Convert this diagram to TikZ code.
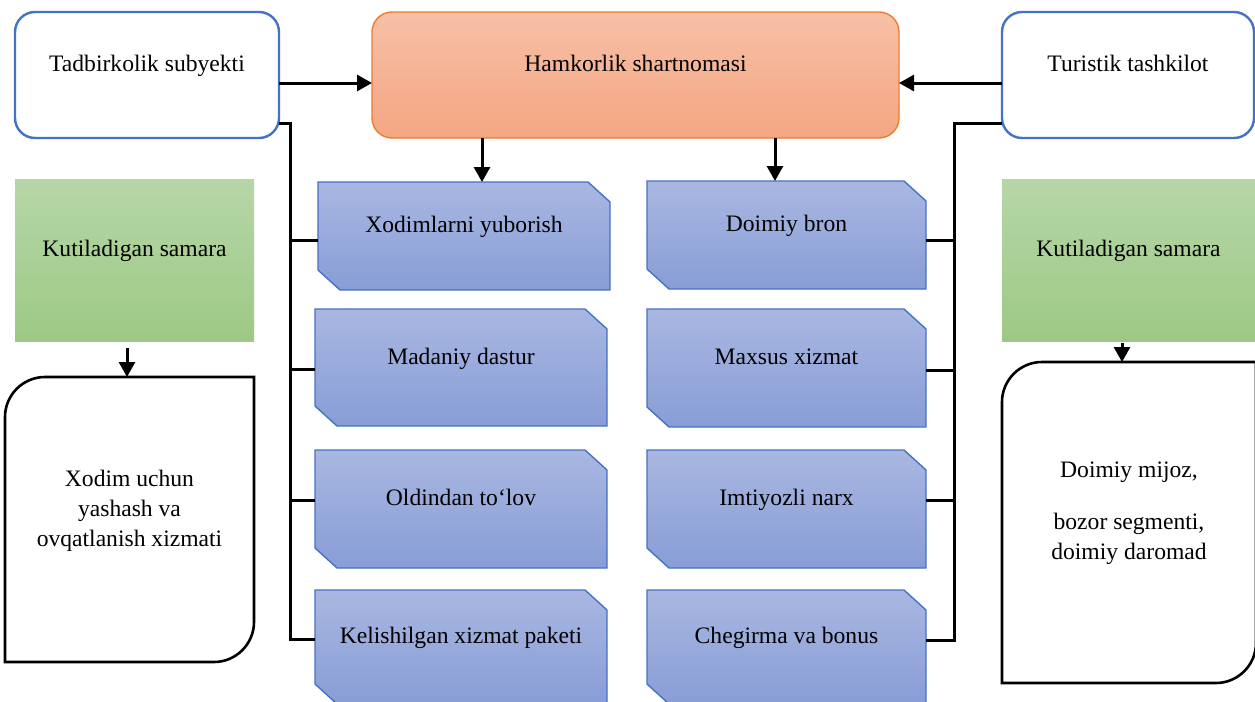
\documentclass[tikz,border=0pt]{standalone}
\usepackage{fontspec}
\setmainfont{Liberation Serif}
\usetikzlibrary{arrows.meta,backgrounds}

\definecolor{frameblue}{RGB}{68,114,196}
\definecolor{svctop}{RGB}{169,183,225}
\definecolor{svcbot}{RGB}{136,157,215}
\definecolor{ctrtop}{RGB}{247,192,167}
\definecolor{ctrbot}{RGB}{244,166,130}
\definecolor{ctrline}{RGB}{237,125,49}
\definecolor{restop}{RGB}{182,214,168}
\definecolor{resbot}{RGB}{157,201,132}

\begin{document}
\begin{tikzpicture}[x=0.5pt, y=-0.5pt,
    font=\fontsize{11.8}{15}\selectfont,
    every node/.style={outer sep=0pt, inner sep=0pt},
    partner/.style ={rectangle, rounded corners=10pt, draw=frameblue, line width=1.2pt,
      fill=white, minimum height=63pt, text height=8pt, text depth=11.5pt},
    contract/.style ={rectangle, rounded corners=10pt, draw=ctrline, line width=0.7pt,
      top color=ctrtop, bottom color=ctrbot, minimum width=263.5pt, minimum height=63pt,
      text height=8pt, text depth=11.5pt},
    result/.style ={rectangle, top color=restop, bottom color=resbot, minimum height=81pt,
      text height=8pt, text depth=11.5pt},
    service/.style ={rectangle, minimum width=146pt, text height=8pt, text depth=11.5pt},
    outcome/.style ={rectangle, align=center, text depth=11.6pt},
    snip/.style ={draw=frameblue, line width=0.7pt, top color=svctop, bottom color=svcbot},
    outline/.style ={draw=black, line width=1.3pt, fill=white},
    link/.style ={draw=black, line width=1.5pt},
    flow/.style ={link, -{Triangle[length=7.5pt, width=8pt]}}]
   \useasboundingbox (0,0) rectangle (1255,702);
   \node[partner, minimum width=132pt] (tadbir) at (147,75) {Tadbirkolik subyekti};
   \node[contract] (hamkor) at (635.5,75) {Hamkorlik shartnomasi};
   \node[partner, minimum width=126pt] (turist) at (1128,75) {Turistik tashkilot};
   \node[result, minimum width=119.5pt] (samaraL) at (134.5,260) {Kutiladigan samara};
   \node[result, minimum width=126.5pt] (samaraR) at (1128.5,260) {Kutiladigan samara};
   \node[service, minimum height=54pt] (xodim) at (464,236) {Xodimlarni yuborish};
   \node[service, minimum height=58.5pt] (madaniy) at (461,367.5) {Madaniy dastur};
   \node[service, minimum height=59pt] (oldindan) at (461,509) {Oldindan to‘lov};
   \node[service, minimum height=57pt] (kelish) at (461,647) {Kelishilgan xizmat paketi};
   \node[service, minimum width=139.5pt, minimum height=54pt] (doimiy) at (786.5,235) {Doimiy bron};
   \node[service, minimum width=139.5pt, minimum height=59pt] (maxsus) at (786.5,368) {Maxsus xizmat};
   \node[service, minimum width=139.5pt, minimum height=59pt] (imtiyoz) at (786.5,509) {Imtiyozli narx};
   \node[service, minimum width=139.5pt, minimum height=57pt] (chegirma) at (786.5,647) {Chegirma va bonus};
   \node[outcome, minimum width=124.5pt, minimum height=142.5pt] (yashash) at (129.5,519.5)
     {Xodim uchun\\yashash va\\ovqatlanish xizmati};
   \node[outcome, minimum width=127pt, minimum height=160.5pt] (mijoz) at (1129,522.5)
     {Doimiy mijoz,\\[11pt]bozor segmenti,\\doimiy daromad};
   % box outlines behind the texts
   \begin{scope}[on background layer]
     \foreach \n in {xodim,madaniy,oldindan,kelish,doimiy,maxsus,imtiyoz,chegirma}
       \draw[snip] (\n.north west) -- ([xshift=-11pt]\n.north east) -- ([yshift=-10pt]\n.north east)
         -- (\n.south east) -- ([xshift=11pt]\n.south west) -- ([yshift=10pt]\n.south west) -- cycle;
     \foreach \n in {yashash,mijoz}
       \draw[outline] (\n.south west) -- ([yshift=-20pt]\n.north west)
         .. controls ([yshift=-9pt]\n.north west) and ([xshift=9pt]\n.north west) .. ([xshift=20pt]\n.north west)
         -- (\n.north east) -- ([yshift=20pt]\n.south east)
         .. controls ([yshift=9pt]\n.south east) and ([xshift=-9pt]\n.south east) .. ([xshift=-20pt]\n.south east)
         -- cycle;
   \end{scope}
   \draw[flow] ([yshift=-4pt]tadbir.east) -- ([yshift=-4pt]hamkor.west);
   \draw[flow] ([yshift=-4pt]turist.west) -- ([yshift=-4pt]hamkor.east);
   \draw[flow] ([xshift=9pt]xodim.north |- hamkor.south) -- ([xshift=9pt]xodim.north);
   \draw[flow] ([xshift=-5.75pt]doimiy.north |- hamkor.south) -- ([xshift=-5.75pt]doimiy.north);
   \draw[flow] ([xshift=-3.75pt,yshift=-3.5pt]samaraL.south) -- ([xshift=-1.25pt]yashash.north);
   \draw[flow] ([xshift=-3.25pt,yshift=-1pt]samaraR.south) -- ([xshift=-3.5pt]mijoz.north);
   % left bracket
   \draw[link] ([yshift=7.5pt]tadbir.south east) -| ([xshift=-12.5pt,yshift=4pt]kelish.west) -- ([yshift=4pt]kelish.west);
   \draw[link] ([xshift=-14pt,yshift=-2pt]xodim.west) -- ([yshift=-2pt]xodim.west);
   \draw[link] ([xshift=-12.5pt,yshift=-0.75pt]madaniy.west) -- ([yshift=-0.75pt]madaniy.west);
   \draw[link] ([xshift=-12.5pt,yshift=4.5pt]oldindan.west) -- ([yshift=4.5pt]oldindan.west);
   % right bracket
   \draw[link] ([yshift=7.5pt]turist.south west) -| ([xshift=14pt,yshift=3.5pt]chegirma.east) -- ([yshift=3.5pt]chegirma.east);
   \draw[link] ([xshift=14pt,yshift=-2.5pt]doimiy.east) -- ([yshift=-2.5pt]doimiy.east);
   \draw[link] ([xshift=14pt,yshift=-1pt]maxsus.east) -- ([yshift=-1pt]maxsus.east);
   \draw[link] ([xshift=14pt,yshift=4.5pt]imtiyoz.east) -- ([yshift=4.5pt]imtiyoz.east);
 \end{tikzpicture}
\end{document}
